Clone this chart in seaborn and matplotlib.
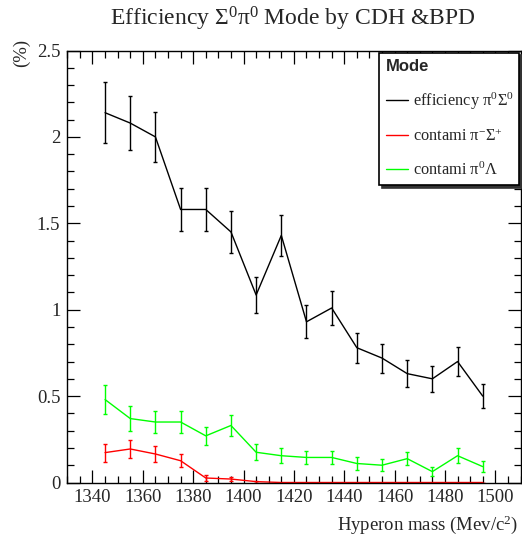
import matplotlib
matplotlib.use("Agg")
import matplotlib.pyplot as plt
from matplotlib.lines import Line2D
from matplotlib.ticker import MultipleLocator, FuncFormatter
from matplotlib.font_manager import FontProperties
import numpy as np
import pandas as pd
import seaborn as sns

# ---- data ----
mass = [1345, 1355, 1365, 1375, 1385, 1395, 1405, 1415,
        1425, 1435, 1445, 1455, 1465, 1475, 1485, 1495]
eff = [2.14, 2.08, 2.00, 1.58, 1.58, 1.45, 1.085, 1.43,
       0.93, 1.01, 0.78, 0.72, 0.63, 0.60, 0.70, 0.50]
eff_err = [0.175, 0.155, 0.143, 0.126, 0.126, 0.12, 0.103, 0.118,
           0.095, 0.097, 0.087, 0.084, 0.078, 0.074, 0.082, 0.068]
red = [0.173, 0.194, 0.165, 0.126, 0.026, 0.02, 0.005, 0.0,
       0.0, 0.0, 0.0, 0.0, 0.0, 0.0, 0.0, 0.0]
red_err = [0.052, 0.05, 0.045, 0.037, 0.017, 0.014, 0.006, 0.0,
           0.0, 0.0, 0.0, 0.0, 0.0, 0.0, 0.0, 0.0]
green = [0.48, 0.37, 0.35, 0.35, 0.27, 0.33, 0.175, 0.155,
         0.145, 0.145, 0.11, 0.10, 0.138, 0.063, 0.155, 0.092]
green_err = [0.084, 0.07, 0.063, 0.063, 0.053, 0.06, 0.045, 0.043,
             0.04, 0.04, 0.036, 0.034, 0.038, 0.027, 0.042, 0.033]

series_names = ["efficiency", "contami_pim_sigp", "contami_pi0_lambda"]
series_labels = [r"efficiency π$^{0}$Σ$^{0}$", r"contami π$^{-}$Σ$^{+}$", r"contami π$^{0}$Λ"]
series_colors = ["#000000", "#ff0000", "#00ff00"]
title_text = r"Efficiency Σ$^{0}$π$^{0}$ Mode by CDH &BPD"
xlabel_text = r"Hyperon mass (Mev/c$^{2}$)"
ylabel_text = "(%)"
legend_title = "Mode"

# ---- style ----
sns.set_style("ticks")
plt.rcParams["font.family"] = ["Liberation Serif", "DejaVu Serif"]
plt.rcParams["mathtext.fontset"] = "custom"
plt.rcParams["mathtext.rm"] = "Liberation Serif"
plt.rcParams["mathtext.it"] = "Liberation Serif:italic"
plt.rcParams["mathtext.bf"] = "Liberation Serif:bold"

df = pd.DataFrame({
    "mass": mass * 3,
    "value": eff + red + green,
    "series": [series_names[0]] * len(mass) + [series_names[1]] * len(mass) + [series_names[2]] * len(mass),
})

fig = plt.figure(figsize=(5.22, 5.39), dpi=100)
W, H = 522, 539
ax_l, ax_r, ax_t, ax_b = 67.3, 520.5, 50.5, 482.5
ax = fig.add_axes([ax_l / W, 1 - ax_b / H, (ax_r - ax_l) / W, (ax_b - ax_t) / H])

palette = dict(zip(series_names, series_colors))
sns.lineplot(data=df, x="mass", y="value", hue="series", palette=palette,
             hue_order=series_names, estimator=None, sort=False,
             legend=False, linewidth=1.0, ax=ax)

for vals, errs, col in zip([eff, red, green], [eff_err, red_err, green_err], series_colors):
    ax.errorbar(mass, vals, yerr=errs, fmt="none", ecolor=col, elinewidth=1.0,
                capsize=1.6, capthick=1.0)

ax.set_xlim(1330, 1510)
ax.set_ylim(0, 2.5)
ax.xaxis.set_major_locator(MultipleLocator(20))
ax.xaxis.set_minor_locator(MultipleLocator(5))
ax.yaxis.set_major_locator(MultipleLocator(0.5))
ax.yaxis.set_minor_locator(MultipleLocator(0.1))
ax.yaxis.set_major_formatter(FuncFormatter(lambda v, p: "%g" % v))
ax.set_xticks([1340, 1360, 1380, 1400, 1420, 1440, 1460, 1480, 1500])

ax.tick_params(which="both", direction="in", top=True, right=True, color="black",
               width=0.9)
ax.tick_params(which="major", length=9.4, labelsize=13.5, pad=5)
ax.tick_params(which="minor", length=4.8)
for s in ax.spines.values():
    s.set_linewidth(1.0)
    s.set_color("black")

ax.set_xlabel(xlabel_text, fontsize=13.5, loc="right")
ax.xaxis.set_label_coords(0.995, -0.072)
ax.set_ylabel(ylabel_text, fontsize=13.5, loc="top")
ax.yaxis.set_label_coords(-0.082, 1.026)

fig.text(292.5 / W, 1 - 5 / H, title_text, ha="center", va="top", fontsize=17)

handles = [Line2D([0], [0], color=c, lw=1.0) for c in series_colors]
leg = ax.legend(handles, series_labels, title=legend_title,
                title_fontproperties=FontProperties(family="Liberation Sans", weight="bold", size=12),
                loc="upper left", bbox_to_anchor=(0.688, 0.995, 0.309, 0.0),
                mode="expand", borderaxespad=0, frameon=True, fancybox=False,
                edgecolor="black", facecolor="white", framealpha=1,
                shadow={"color": "#333333", "alpha": 1.0},
                alignment="left", fontsize=11.8, handlelength=1.35,
                handletextpad=0.3, labelspacing=1.0, borderpad=0.4)
leg.get_frame().set_linewidth(1.2)

fig.savefig("out.png", dpi=100)
